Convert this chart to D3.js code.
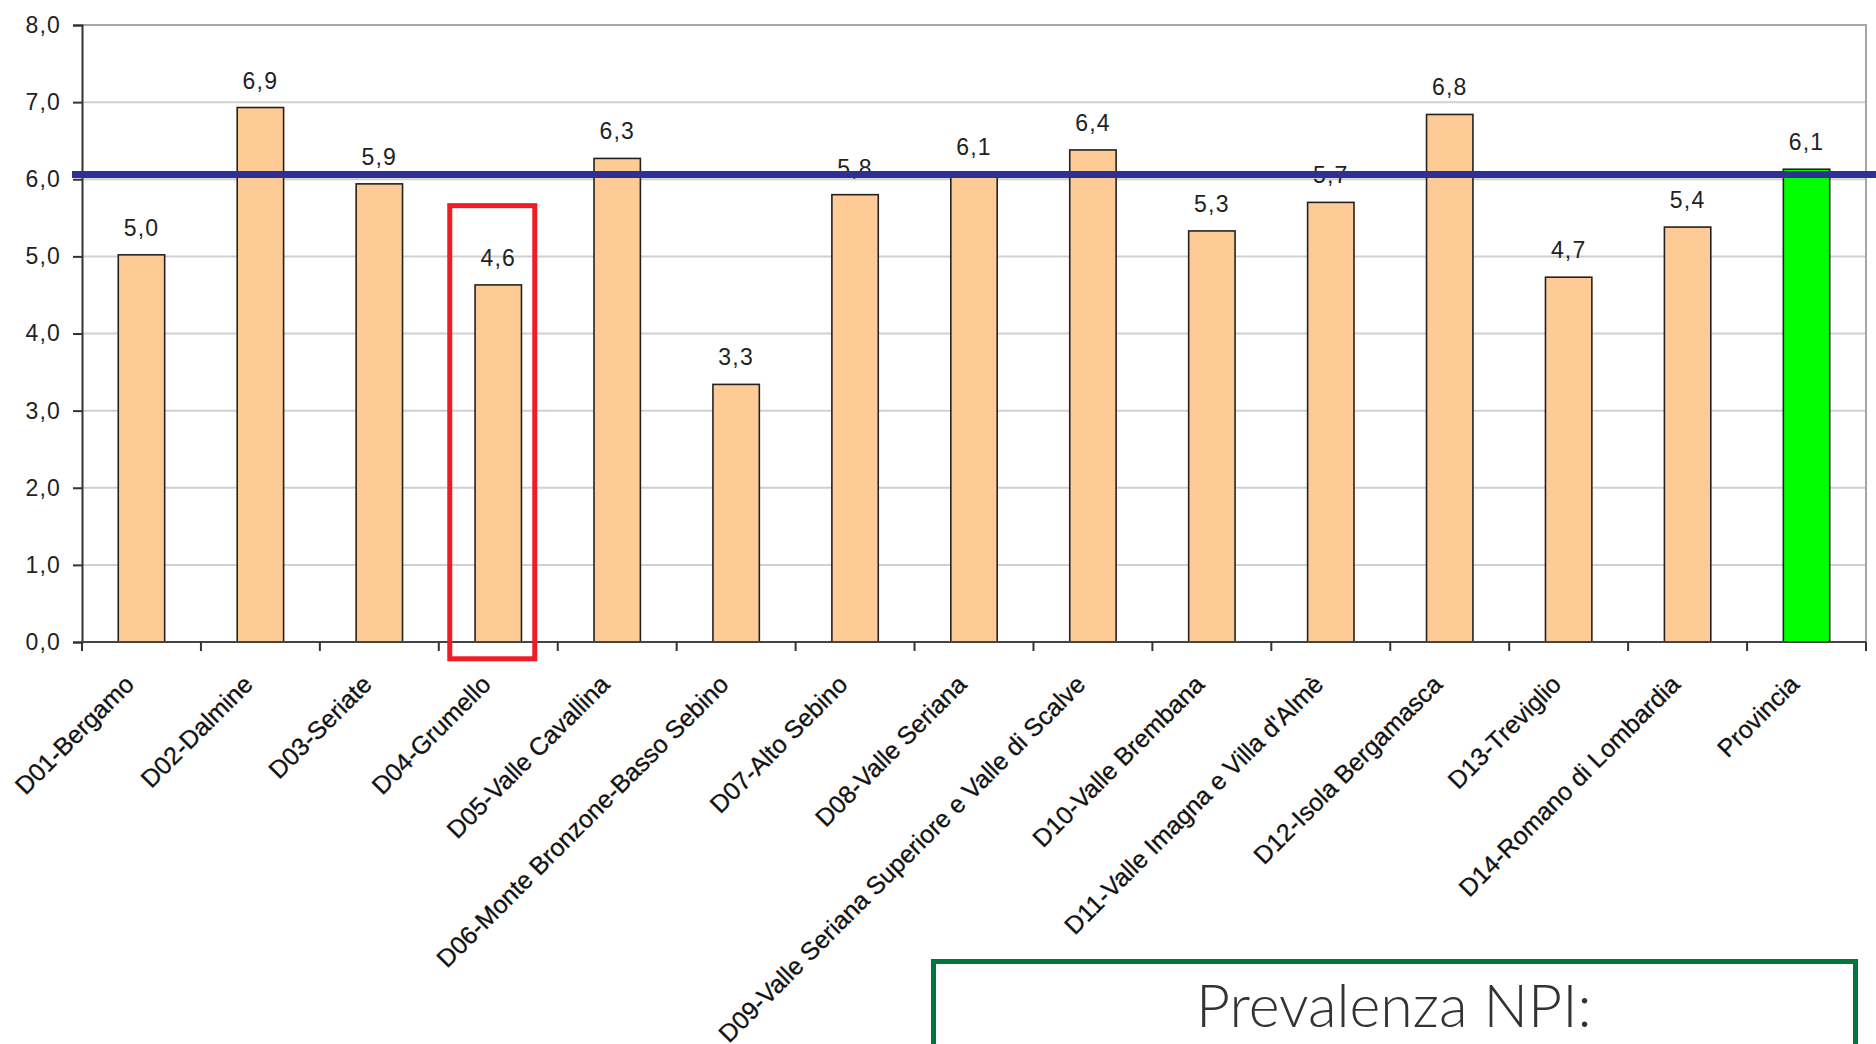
<!DOCTYPE html>
<html><head><meta charset="utf-8">
<script src="https://cdn.jsdelivr.net/npm/d3@7"></script>
<style>
html,body{margin:0;padding:0;background:#fff;}
svg{display:block;}
</style></head>
<body>
<svg id="chart" width="1876" height="1044"></svg>
<script>
const categories = ["D01-Bergamo","D02-Dalmine","D03-Seriate","D04-Grumello","D05-Valle Cavallina","D06-Monte Bronzone-Basso Sebino","D07-Alto Sebino","D08-Valle Seriana","D09-Valle Seriana Superiore e Valle di Scalve","D10-Valle Brembana","D11-Valle Imagna e Villa d'Almè","D12-Isola Bergamasca","D13-Treviglio","D14-Romano di Lombardia","Provincia"];
const values = [5.02, 6.93, 5.94, 4.63, 6.27, 3.34, 5.80, 6.07, 6.38, 5.33, 5.70, 6.84, 4.73, 5.38, 6.13];
const yTickValues = [0,1,2,3,4,5,6,7,8];
const referenceValue = 6.06;
const highlightCategory = "D04-Grumello";
const totalCategory = "Provincia";
const boxTitle = "Prevalenza NPI:";

const svg = d3.select("#chart");
const W = 1876, H = 1044;
const m = {left:82, top:25, right:10, bottom:402};
const x0 = m.left, x1 = W - m.right, y0 = H - m.bottom, y1 = m.top;

const x = d3.scaleBand().domain(categories).range([x0, x1]).paddingInner(0).paddingOuter(0);
const y = d3.scaleLinear().domain([0, 8]).range([y0, y1]);
const fmt = d3.formatLocale({decimal:",", thousands:".", grouping:[3], currency:["€",""]}).format(".1f");
const barW = x.bandwidth() * 0.39;
const font = "'Liberation Sans', Arial, sans-serif";

// gridlines
svg.append("g").selectAll("line").data(yTickValues.filter(d => d > 0 && d < 8)).join("line")
  .attr("x1", x0).attr("x2", x1).attr("y1", d => y(d)).attr("y2", d => y(d))
  .attr("stroke", "#d0d0d0").attr("stroke-width", 2);
// plot border (top & right)
svg.append("path")
  .attr("d", `M${x0},${y(8)}H${x1}V${y(0)}`)
  .attr("fill", "none").attr("stroke", "#a6a6a6").attr("stroke-width", 2);

// bars
svg.append("g").selectAll("rect").data(values).join("rect")
  .attr("x", (d, i) => x(categories[i]) + (x.bandwidth() - barW) / 2)
  .attr("y", d => y(d))
  .attr("width", barW)
  .attr("height", d => y(0) - y(d))
  .attr("fill", (d, i) => categories[i] === totalCategory ? "#00ff00" : "#fecb96")
  .attr("stroke", "#222").attr("stroke-width", 1.6);

// y axis
const yAxis = d3.axisLeft(y).tickValues(yTickValues).tickSize(9).tickPadding(12).tickFormat(fmt);
const gy = svg.append("g").attr("transform", `translate(${x0},0)`).call(yAxis);
gy.select(".domain").attr("stroke", "#333").attr("stroke-width", 2);
gy.selectAll(".tick line").attr("stroke", "#333").attr("stroke-width", 2);
gy.selectAll(".tick text").attr("font-family", font).attr("font-size", 23)
  .attr("letter-spacing", 1.2).attr("fill", "#222");

// x axis baseline + ticks at boundaries
svg.append("line").attr("x1", x0).attr("x2", x1).attr("y1", y(0)).attr("y2", y(0))
  .attr("stroke", "#444").attr("stroke-width", 2);
const bounds = categories.map(c => x(c)).concat([x1]);
svg.append("g").selectAll("line").data(bounds).join("line")
  .attr("x1", d => d).attr("x2", d => d).attr("y1", y(0)).attr("y2", y(0) + 9)
  .attr("stroke", "#333").attr("stroke-width", 2);

// category labels
svg.append("g").selectAll("text").data(categories).join("text")
  .attr("transform", d => `translate(${x(d) + x.bandwidth()/2 - 6},${y(0) + 44}) rotate(-45)`)
  .attr("text-anchor", "end")
  .attr("font-family", font).attr("font-size", 25).attr("fill", "#111")
  .attr("stroke", "#111").attr("stroke-width", 0.3)
  .text(d => d);

// value labels
svg.append("g").selectAll("text").data(values).join("text")
  .attr("x", (d, i) => x(categories[i]) + x.bandwidth()/2)
  .attr("y", d => y(d) - 19)
  .attr("text-anchor", "middle")
  .attr("font-family", font).attr("font-size", 23).attr("letter-spacing", 1.2).attr("fill", "#222")
  .text(d => fmt(d));

// reference line
svg.append("line")
  .attr("x1", x0 - 10).attr("x2", W).attr("y1", y(referenceValue)).attr("y2", y(referenceValue))
  .attr("stroke", "#2e3192").attr("stroke-width", 7);

// highlight rectangle
const hx = x(highlightCategory) + x.bandwidth()/2;
svg.append("rect")
  .attr("x", hx - 48.5).attr("y", y(5.69) + 2.5)
  .attr("width", 85).attr("height", y(-0.25) - y(5.69) - 5)
  .attr("fill", "none").attr("stroke", "#ee1c25").attr("stroke-width", 5);

// text box
svg.append("rect")
  .attr("x", 933.5).attr("y", 961.5).attr("width", 922).attr("height", 120)
  .attr("fill", "#fff").attr("stroke", "#00773c").attr("stroke-width", 5);
svg.append("text")
  .attr("x", 1196).attr("y", 1027)
  .attr("font-family", "'Lato', 'Liberation Sans', sans-serif").attr("font-weight", 300)
  .attr("font-size", 59).attr("fill", "#333")
  .text(boxTitle);
</script>
</body></html>
